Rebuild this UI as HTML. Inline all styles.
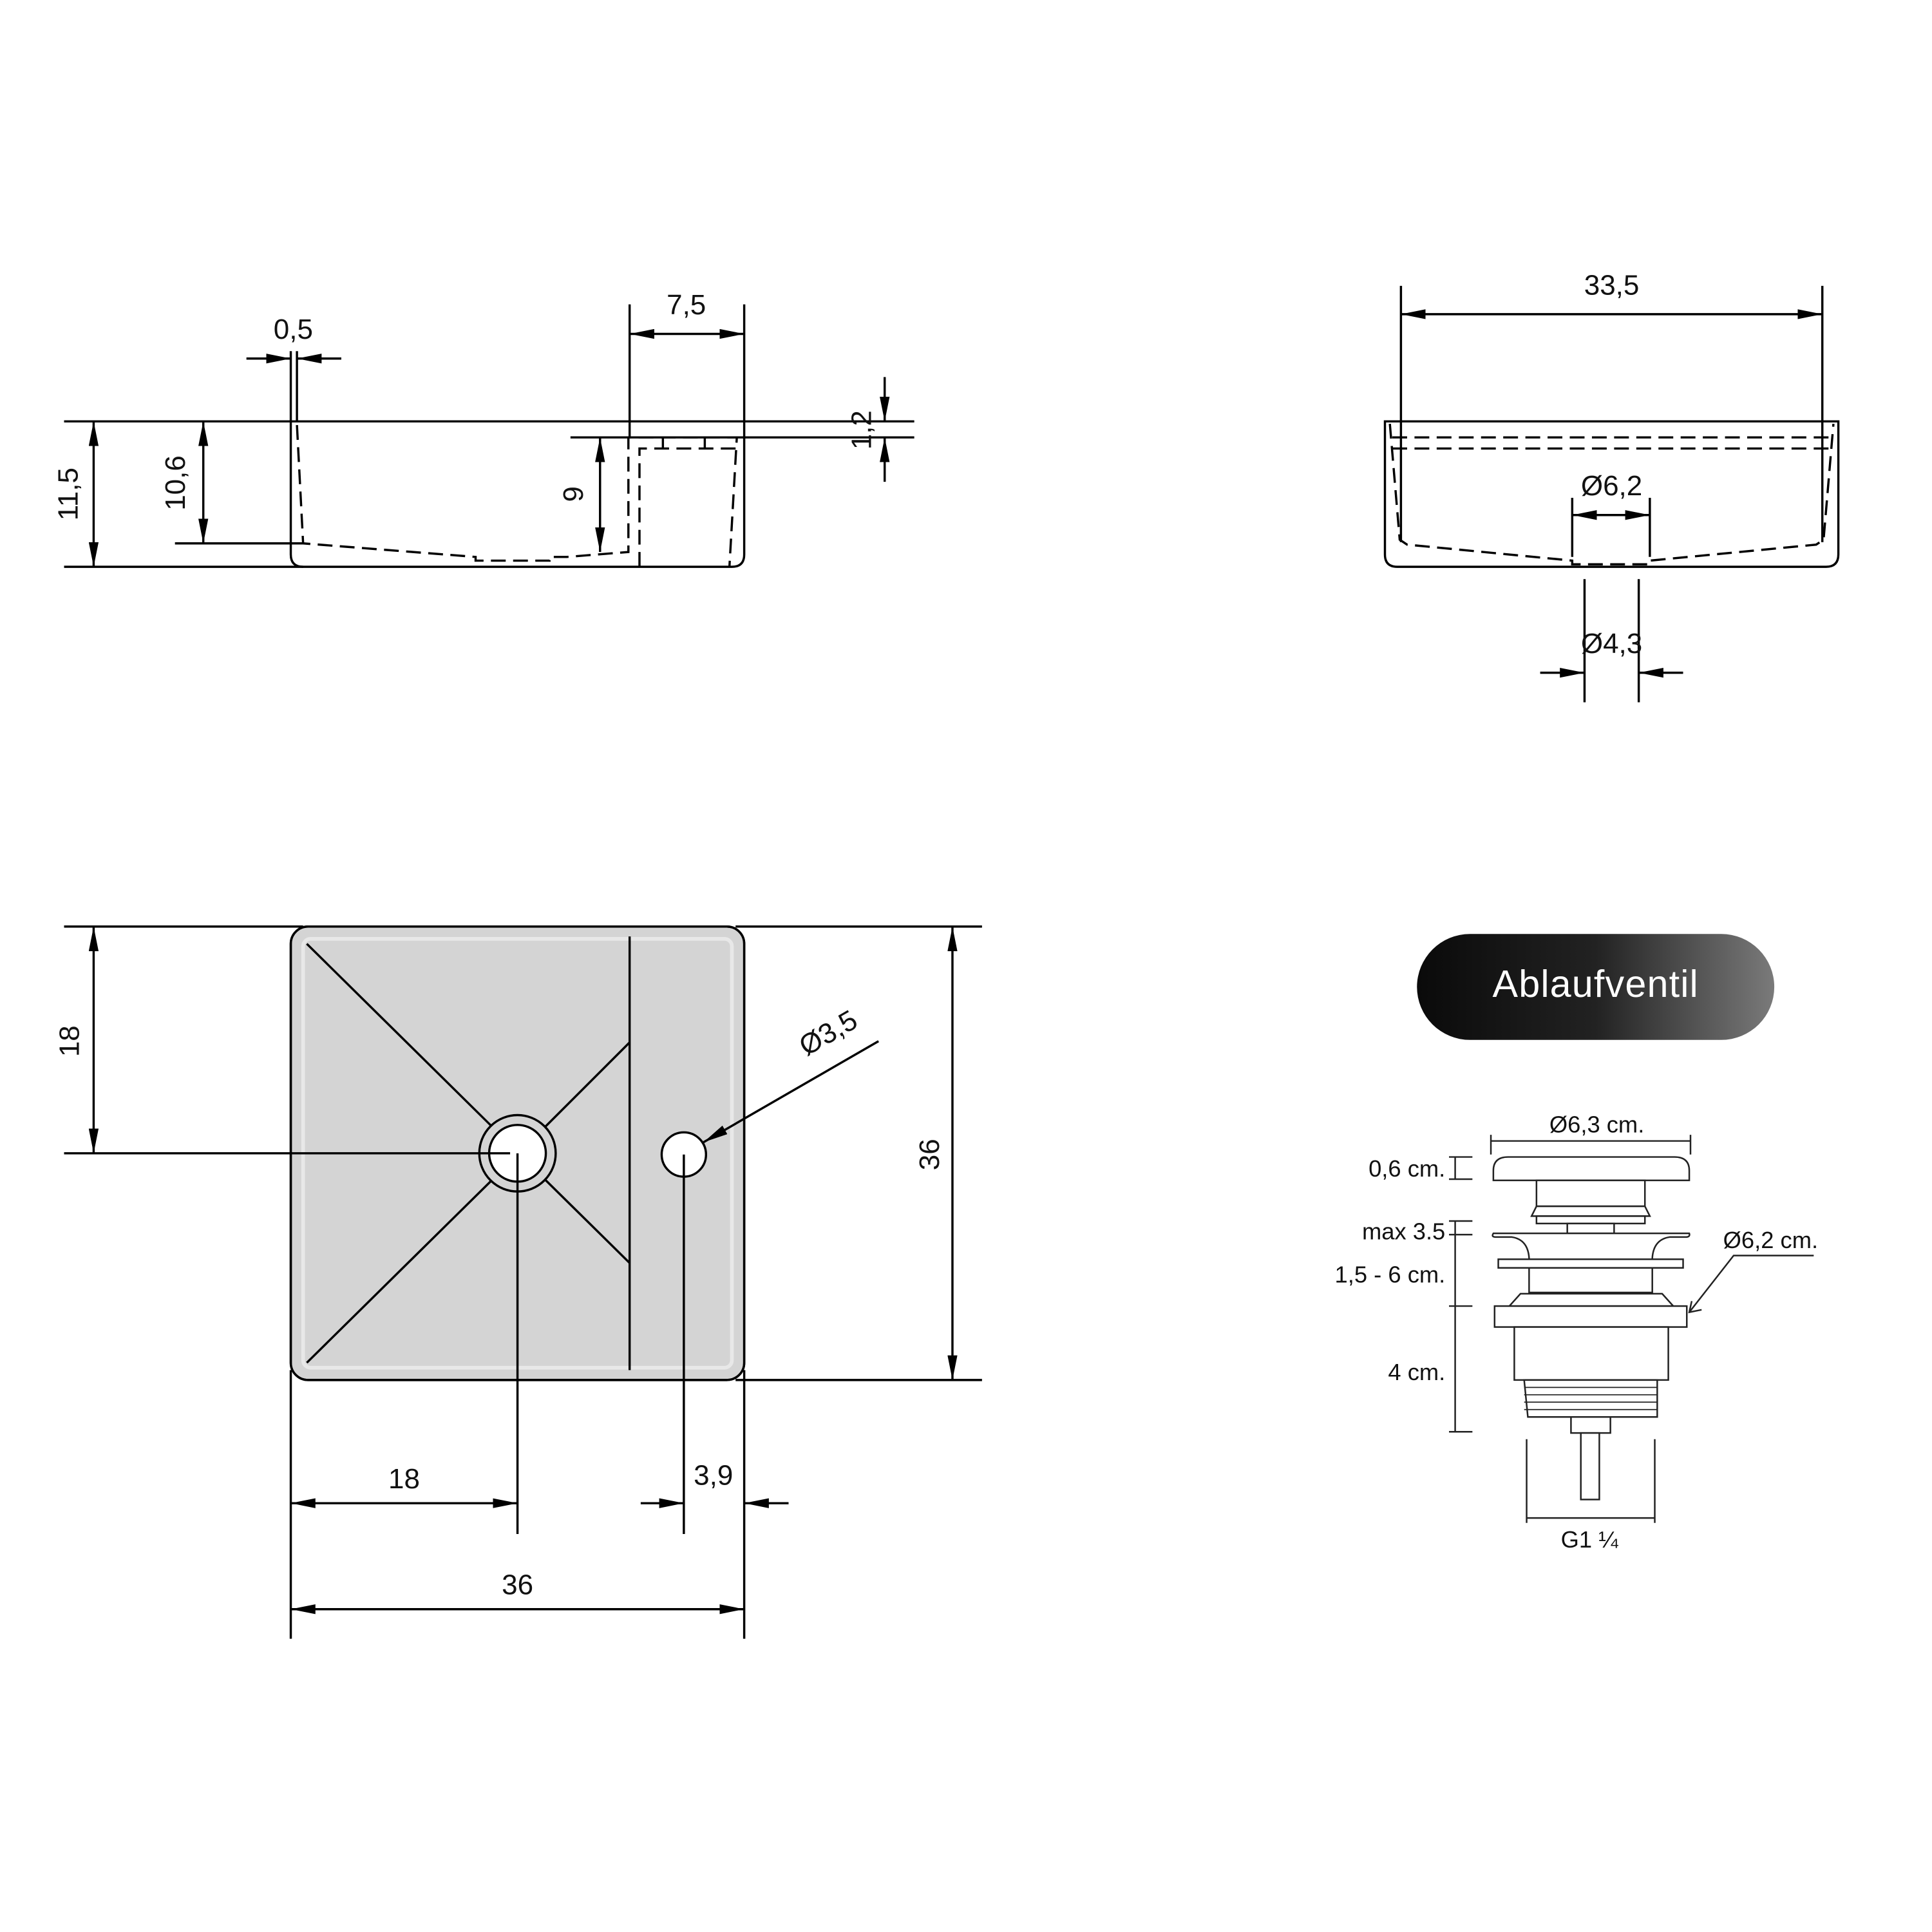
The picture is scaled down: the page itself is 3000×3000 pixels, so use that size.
<!DOCTYPE html>
<html><head><meta charset="utf-8"><style>
html,body{margin:0;padding:0;background:#fff}
svg{display:block}
text{font-family:"Liberation Sans","DejaVu Sans",sans-serif;fill:#111}
</style></head><body>
<svg width="3000" height="3000" viewBox="0 0 1568 1568" xmlns="http://www.w3.org/2000/svg">
<defs>
<marker id="a" viewBox="0 0 20 8" refX="20" refY="4" markerWidth="20" markerHeight="8" markerUnits="userSpaceOnUse" orient="auto-start-reverse"><path d="M0,0 L20,4 L0,8 z" fill="#000"/></marker>
<linearGradient id="g" x1="0" x2="1" y1="0" y2="0"><stop offset="0" stop-color="#0a0a0a"/><stop offset="0.5" stop-color="#222"/><stop offset="1" stop-color="#7a7a7a"/></linearGradient>
</defs>
<g fill="none" stroke="#000" stroke-width="1.8">
<line x1="52" y1="342" x2="742" y2="342"/>
<line x1="52" y1="460" x2="246" y2="460"/>
<path d="M236,342 V450 Q236,460 246,460 H594 Q604,460 604,450 V342"/>
<line x1="142" y1="441" x2="246" y2="441"/>
<line x1="463" y1="355" x2="742" y2="355"/>
<line x1="236" y1="285" x2="236" y2="342"/>
<line x1="241" y1="285" x2="241" y2="342"/>
<line x1="511" y1="247" x2="511" y2="355"/>
<line x1="604" y1="247" x2="604" y2="342"/>
<g stroke-dasharray="12,6">
<path d="M241,345 L246,441 L386,452 L386,455 L400,455 H446 L446,452 L460,452 L510,448 L510,355 H598 L592,460"/>
<path d="M519,460 V364 H598"/>
</g>
<line x1="538" y1="355" x2="538" y2="364"/>
<line x1="572" y1="355" x2="572" y2="364"/>
<line x1="76" y1="342" x2="76" y2="460" marker-start="url(#a)" marker-end="url(#a)"/>
<line x1="165" y1="342" x2="165" y2="441" marker-start="url(#a)" marker-end="url(#a)"/>
<line x1="487" y1="355" x2="487" y2="448" marker-start="url(#a)" marker-end="url(#a)"/>
<line x1="200" y1="291" x2="236" y2="291" marker-end="url(#a)"/>
<line x1="277" y1="291" x2="241" y2="291" marker-end="url(#a)"/>
<line x1="511" y1="271" x2="604" y2="271" marker-start="url(#a)" marker-end="url(#a)"/>
<line x1="718" y1="306" x2="718" y2="342" marker-end="url(#a)"/>
<line x1="718" y1="391" x2="718" y2="355" marker-end="url(#a)"/>
<path d="M1124,342 H1492 V450 Q1492,460 1482,460 H1134 Q1124,460 1124,450 Z"/>
<line x1="1137" y1="232" x2="1137" y2="440"/>
<line x1="1479" y1="232" x2="1479" y2="440"/>
<line x1="1137" y1="255" x2="1479" y2="255" marker-start="url(#a)" marker-end="url(#a)"/>
<g stroke-dasharray="12,6">
<line x1="1130" y1="355" x2="1486" y2="355"/>
<line x1="1130" y1="364" x2="1486" y2="364"/>
<path d="M1128,344 L1136,438 L1142,442 L1276,455 L1276,458 H1339 L1339,455 L1474,442 L1480,438 L1488,344"/>
</g>
<line x1="1276" y1="404" x2="1276" y2="452"/>
<line x1="1339" y1="404" x2="1339" y2="452"/>
<line x1="1276" y1="418" x2="1339" y2="418" marker-start="url(#a)" marker-end="url(#a)"/>
<line x1="1286" y1="470" x2="1286" y2="570"/>
<line x1="1330" y1="470" x2="1330" y2="570"/>
<line x1="1250" y1="546" x2="1286" y2="546" marker-end="url(#a)"/>
<line x1="1366" y1="546" x2="1330" y2="546" marker-end="url(#a)"/>
<rect x="236" y="752" width="368" height="368" rx="14" fill="#d4d4d4"/>
<rect x="246" y="762" width="348" height="348" rx="6" stroke="#e8e8e8" stroke-width="3"/>
<rect x="236" y="752" width="368" height="368" rx="14"/>
<line x1="511" y1="760" x2="511" y2="1112"/>
<line x1="249" y1="766" x2="400" y2="915"/>
<line x1="249" y1="1106" x2="400" y2="957"/>
<line x1="511" y1="846" x2="442" y2="915"/>
<line x1="511" y1="1025" x2="442" y2="957"/>
<circle cx="420" cy="936" r="31" fill="#d4d4d4"/>
<circle cx="420" cy="936" r="23" fill="#fff"/>
<circle cx="555" cy="937" r="18" fill="#fff"/>
<line x1="52" y1="752" x2="246" y2="752"/>
<line x1="597" y1="752" x2="797" y2="752"/>
<line x1="597" y1="1120" x2="797" y2="1120"/>
<line x1="52" y1="936" x2="414" y2="936"/>
<line x1="76" y1="752" x2="76" y2="936" marker-start="url(#a)" marker-end="url(#a)"/>
<line x1="773" y1="752" x2="773" y2="1120" marker-start="url(#a)" marker-end="url(#a)"/>
<line x1="236" y1="1112" x2="236" y2="1330"/>
<line x1="604" y1="1112" x2="604" y2="1330"/>
<line x1="420" y1="936" x2="420" y2="1245"/>
<line x1="555" y1="937" x2="555" y2="1245"/>
<line x1="236" y1="1220" x2="420" y2="1220" marker-start="url(#a)" marker-end="url(#a)"/>
<line x1="520" y1="1220" x2="555" y2="1220" marker-end="url(#a)"/>
<line x1="640" y1="1220" x2="604" y2="1220" marker-end="url(#a)"/>
<line x1="236" y1="1306" x2="604" y2="1306" marker-start="url(#a)" marker-end="url(#a)"/>
<line x1="713" y1="845" x2="571" y2="927" marker-end="url(#a)"/>
</g>
<g font-size="23">
<text x="238" y="275" text-anchor="middle">0,5</text>
<text x="557" y="255" text-anchor="middle">7,5</text>
<text transform="translate(63,401) rotate(-90)" text-anchor="middle">11,5</text>
<text transform="translate(150,392) rotate(-90)" text-anchor="middle">10,6</text>
<text transform="translate(473,401) rotate(-90)" text-anchor="middle">9</text>
<text transform="translate(707,349) rotate(-90)" text-anchor="middle">1,2</text>
<text x="1308" y="239" text-anchor="middle">33,5</text>
<text x="1308" y="402" text-anchor="middle">Ø6,2</text>
<text x="1308" y="530" text-anchor="middle">Ø4,3</text>
<text transform="translate(64,845) rotate(-90)" text-anchor="middle">18</text>
<text transform="translate(762,937) rotate(-90)" text-anchor="middle">36</text>
<text x="328" y="1208" text-anchor="middle">18</text>
<text x="579" y="1205" text-anchor="middle">3,9</text>
<text x="420" y="1294" text-anchor="middle">36</text>
<text transform="translate(676,845) rotate(-30)" text-anchor="middle">Ø3,5</text>
</g>
<rect x="1150" y="758" width="290" height="86" rx="43" fill="url(#g)"/>
<text x="1295" y="809" font-size="31" text-anchor="middle" style="fill:#fff" letter-spacing="0.6">Ablaufventil</text>
<g fill="#fff" stroke="#222" stroke-width="1.3">
<line x1="1210" y1="926" x2="1372" y2="926"/>
<line x1="1210" y1="921" x2="1210" y2="937"/>
<line x1="1372" y1="921" x2="1372" y2="937"/>
<path d="M1212,958 V950 Q1212,939 1224,939 H1359 Q1371,939 1371,950 V958 Z"/>
<rect x="1247" y="958" width="88" height="21"/>
<path d="M1247,979 L1243,987 H1339 L1335,979 Z"/>
<rect x="1247" y="987" width="88" height="6"/>
<rect x="1272" y="993" width="38" height="8"/>
<path d="M1212,1001 H1371 Q1372,1004 1368,1004 H1355 Q1342,1006 1341,1021 V1049 H1241 V1021 Q1240,1006 1227,1004 H1214 Q1210,1004 1212,1001 Z"/>
<rect x="1216" y="1022" width="150" height="7"/>
<path d="M1225,1060 L1234,1050 H1349 L1358,1060 Z"/>
<rect x="1213" y="1060" width="156" height="17"/>
<rect x="1229" y="1077" width="125" height="43"/>
<path d="M1237,1120 H1345 V1150 H1240 Z"/>
<path d="M1237,1126 H1345 M1237,1132 H1345 M1237,1138 H1345 M1237,1144 H1345" stroke-width="0.9"/>
<rect x="1275" y="1150" width="32" height="13"/>
<rect x="1283" y="1163" width="15" height="54"/>
<line x1="1239" y1="1168" x2="1239" y2="1236"/>
<line x1="1343" y1="1168" x2="1343" y2="1236"/>
<line x1="1239" y1="1232" x2="1343" y2="1232"/>
<line x1="1181" y1="939" x2="1181" y2="957"/>
<line x1="1176" y1="939" x2="1195" y2="939"/>
<line x1="1176" y1="957" x2="1195" y2="957"/>
<line x1="1181" y1="991" x2="1181" y2="1162"/>
<line x1="1176" y1="991" x2="1195" y2="991"/>
<line x1="1176" y1="1002" x2="1195" y2="1002"/>
<line x1="1176" y1="1060" x2="1195" y2="1060"/>
<line x1="1176" y1="1162" x2="1195" y2="1162"/>
<polyline points="1472,1019 1407,1019 1371,1065" fill="none"/>
<polyline points="1373,1056 1371,1065 1381,1063" fill="none"/>
</g>
<g font-size="19">
<text x="1296" y="919" text-anchor="middle">Ø6,3 cm.</text>
<text x="1173" y="955" text-anchor="end">0,6 cm.</text>
<text x="1173" y="1006" text-anchor="end">max 3.5</text>
<text x="1173" y="1041" text-anchor="end">1,5 - 6 cm.</text>
<text x="1173" y="1120" text-anchor="end">4 cm.</text>
<text x="1437" y="1013" text-anchor="middle">Ø6,2 cm.</text>
<text x="1290" y="1256" text-anchor="middle">G1 ¼</text>
</g>
</svg>
</body></html>
